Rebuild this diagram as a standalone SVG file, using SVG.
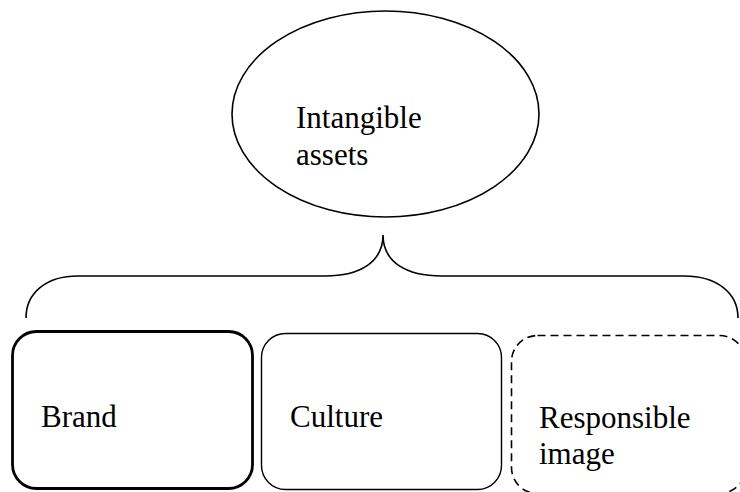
<svg xmlns="http://www.w3.org/2000/svg" width="740" height="492" viewBox="0 0 740 492">
  <style>
    .label { font-family: "Liberation Serif", "Times New Roman", serif; font-size: 31px; fill: #000; }
    .shape { fill: #fff; stroke: #000; }
  </style>
  <rect width="740" height="492" fill="#fff"/>

  <!-- Top concept -->
  <g id="intangible-assets">
    <ellipse class="shape" cx="385.5" cy="114" rx="153.5" ry="103" stroke-width="1.6"/>
    <text class="label" x="296" y="128">Intangible</text>
    <text class="label" x="296" y="165">assets</text>
  </g>

  <!-- Brace grouping the three components -->
  <g id="connectors">
    <path d="M26,318 C26,293 46,276 78,276 L325,276 C360,276 383,262 383,235 C383,262 406,276 442,276 L684,276 C717,276 738,293 738,318" fill="none" stroke="#000" stroke-width="1.6"/>
  </g>

  <g id="brand">
    <rect class="shape" x="12.5" y="331.5" width="240" height="157" rx="24" ry="24" stroke-width="2.8"/>
    <text class="label" x="41" y="427">Brand</text>
  </g>

  <g id="culture">
    <rect class="shape" x="261.5" y="333.5" width="240" height="156" rx="24" ry="24" stroke-width="1.4"/>
    <text class="label" x="290" y="427">Culture</text>
  </g>

  <g id="responsible-image">
    <rect class="shape" x="511.5" y="335.5" width="234" height="158" rx="26" ry="26" stroke-width="1.6" stroke-dasharray="8,5"/>
    <text class="label" x="539" y="428">Responsible</text>
    <text class="label" x="539" y="464">image</text>
  </g>
</svg>
